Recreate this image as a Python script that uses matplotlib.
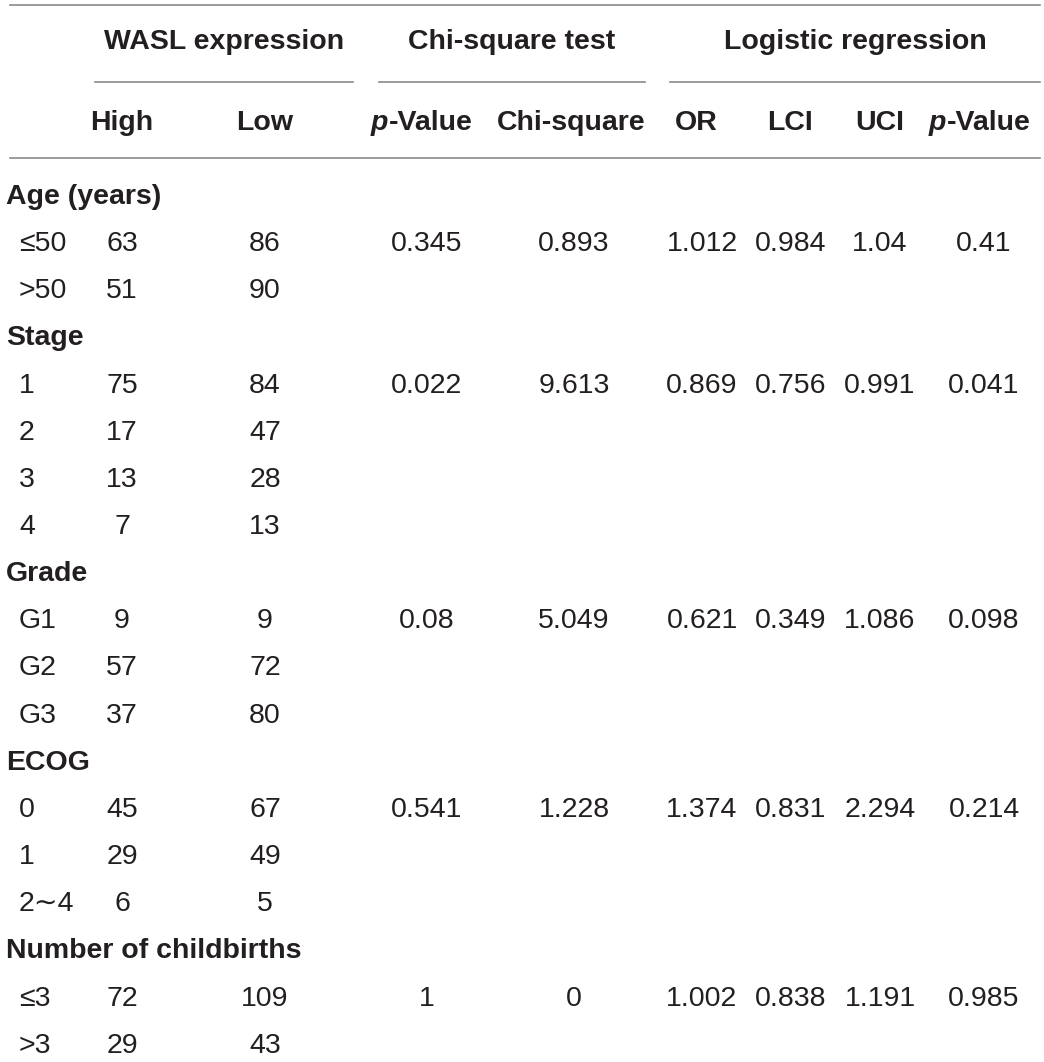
import matplotlib.pyplot as plt

plt.rcParams['font.family'] = ['Liberation Sans', 'DejaVu Sans']

ink = "#231f20"
rule = "#8a8a8a"

# table contents
groups = ["Age (years)", "Stage", "Grade", "ECOG", "Number of childbirths"]
levels = [["\u226450", ">50"],
          ["1", "2", "3", "4"],
          ["G1", "G2", "G3"],
          ["0", "1", "2\u223c4"],
          ["\u22643", ">3"]]
high = [[63, 51], [75, 17, 13, 7], [9, 57, 37], [45, 29, 6], [72, 29]]
low = [[86, 90], [84, 47, 28, 13], [9, 72, 80], [67, 49, 5], [109, 43]]
chi_p = ["0.345", "0.022", "0.08", "0.541", "1"]
chi_sq = ["0.893", "9.613", "5.049", "1.228", "0"]
odds = ["1.012", "0.869", "0.621", "1.374", "1.002"]
lci = ["0.984", "0.756", "0.349", "0.831", "0.838"]
uci = ["1.04", "0.991", "1.086", "2.294", "1.191"]
log_p = ["0.41", "0.041", "0.098", "0.214", "0.985"]

fig = plt.figure(figsize=(10.44, 10.62), dpi=100)
ax = fig.add_axes([0, 0, 1, 1])
ax.set_xlim(0, 1044)
ax.set_ylim(1062, 0)
ax.axis('off')

fs = 20.5
col_x = [122, 265, 427, 574, 702, 791, 880, 984]
head_x = [122, 265, 423, 571, 696, 790, 880, 981]

# rules
ax.plot([10, 1040], [5, 5], color=rule, lw=1.2)
ax.plot([10, 1040], [158, 158], color=rule, lw=1.2)
for a, b in [(95, 353), (379, 645), (670, 1040)]:
    ax.plot([a, b], [82, 82], color=rule, lw=1.2)

# header
for name, cx in [("WASL expression", 224), ("Chi-square test", 512),
                 ("Logistic regression", 855)]:
    ax.text(cx, 42, name, ha='center', va='center', fontsize=fs,
            fontweight='bold', color=ink)

subs = ["High", "Low", None, "Chi-square", "OR", "LCI", "UCI", None]
for s, cx in zip(subs, head_x):
    if s is None:
        p = ax.text(cx - 52, 123, "p", ha='left', va='center', fontsize=fs,
                    fontweight='bold', style='italic', color=ink)
        ax.annotate("-Value", xy=(1, 0.5), xycoords=p, ha='left', va='center',
                    fontsize=fs, fontweight='bold', color=ink)
    else:
        ax.text(cx, 123, s, ha='center', va='center', fontsize=fs,
                fontweight='bold', color=ink)

# body
y = 197
step = 47.15
for g in range(len(groups)):
    ax.text(6, y, groups[g], ha='left', va='center', fontsize=fs,
            fontweight='bold', color=ink)
    y += step
    for k in range(len(levels[g])):
        ax.text(19, y, levels[g][k], ha='left', va='center', fontsize=fs, color=ink)
        ax.text(col_x[0], y, str(high[g][k]), ha='center', va='center', fontsize=fs, color=ink)
        ax.text(col_x[1], y, str(low[g][k]), ha='center', va='center', fontsize=fs, color=ink)
        if k == 0:
            vals = [chi_p[g], chi_sq[g], odds[g], lci[g], uci[g], log_p[g]]
            for v, cx in zip(vals, col_x[2:]):
                ax.text(cx, y, v, ha='center', va='center', fontsize=fs, color=ink)
        y += step

fig.savefig("out.png", dpi=100)
